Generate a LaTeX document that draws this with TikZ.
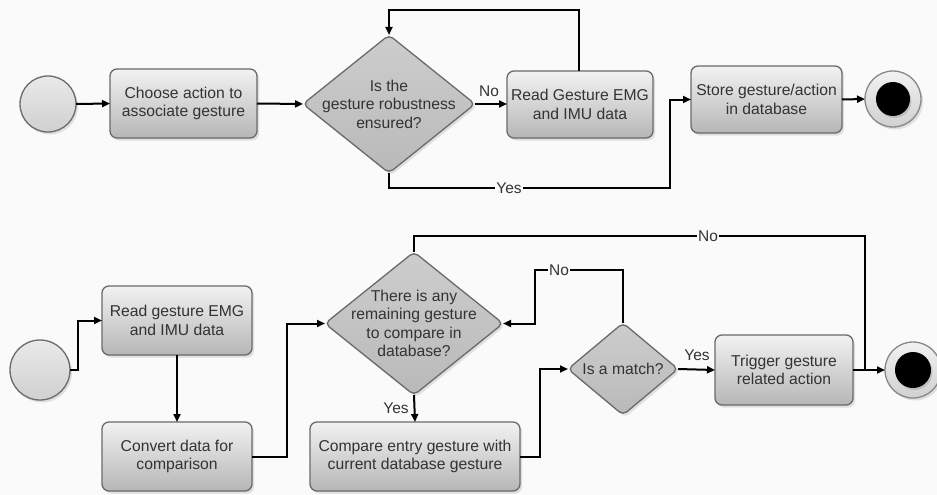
\documentclass[tikz,border=0pt]{standalone}
\usepackage{fontspec}
\setmainfont{Liberation Sans}
\usetikzlibrary{shapes.geometric,shadows,arrows.meta}
\definecolor{bord}{HTML}{6A6A6A}
\definecolor{txtc}{HTML}{333333}
\definecolor{bg}{HTML}{FAFAFA}
\definecolor{boxtop}{HTML}{F2F2F2}
\definecolor{boxbot}{HTML}{B6B6B6}
\definecolor{diatop}{HTML}{CDCDCD}
\definecolor{diabot}{HTML}{B9B9B9}
\definecolor{circtop}{HTML}{E9E9E9}
\definecolor{circbot}{HTML}{D0D0D0}
\begin{document}
\begin{tikzpicture}[x=1pt,y=-1pt,
  shad/.style={drop shadow={opacity=0.22, shadow xshift=2pt, shadow yshift=-2.5pt}},
  box/.style={rectangle, rounded corners=7pt, draw=bord, line width=1.3pt,
    top color=boxtop, bottom color=boxbot, shad, align=center, inner sep=0pt, outer sep=0pt,
    text=txtc, font=\fontsize{15.7}{18.5}\selectfont},
  dia/.style={diamond, rounded corners=5pt, draw=bord, line width=1.3pt,
    top color=diatop, bottom color=diabot, shad, inner sep=0pt, outer sep=0pt},
  diatext/.style={align=center, text=txtc, font=\fontsize{15.7}{18.5}\selectfont, inner sep=0pt},
  startc/.style={circle, draw=bord, line width=1.3pt, top color=circtop, bottom color=circbot, shad, inner sep=0pt, outer sep=0pt},
  endc/.style={circle, draw=bord!80, line width=1.3pt, top color=boxtop, bottom color=circbot, shad, inner sep=0pt, outer sep=0pt},
  arr/.style={draw=black, line width=2pt, -{Triangle[length=8pt,width=7pt]}},
  ln/.style={draw=black, line width=2pt},
  lbl/.style={font=\fontsize{15.5}{15.5}\selectfont, text=txtc, inner sep=1pt},
  lblf/.style={lbl, fill=bg}
]
\useasboundingbox (0,0) rectangle (937,495);
\fill[bg] (0,0) rectangle (937,495);

% ---------- top row ----------
\node[startc, minimum size=56pt] (s1) at (48,104) {};
\node[box, minimum width=147pt, minimum height=69pt] (b1) at (183.5,103.5) {Choose action to\\associate gesture};
\node[dia, minimum width=172pt, minimum height=138pt] (d1) at (389,104) {};
\node[diatext] at (d1) {Is the\\gesture robustness\\ensured?};
\node[box, minimum width=146pt, minimum height=67pt] (b2) at (580,104.5) {Read Gesture EMG\\and IMU data};
\node[box, minimum width=151pt, minimum height=67pt] (b3) at (766.5,99.5) {Store gesture/action\\in database};
\node[endc, minimum size=56pt] (e1) at (893,99) {};
\fill[black, drop shadow={opacity=0.3, shadow xshift=1.5pt, shadow yshift=-2pt}] (e1) circle (17pt);

\draw[arr] (s1.east) -- (b1.west);
\draw[arr] (b1.east) -- (d1.west);
\draw[arr] (d1.east) -- (b2.west |- d1.east);
\node[lbl] (n1) at (489,91) {No};
\draw[arr] (b2.north -| 579,0) -- (579,10) -| (d1.north);
\draw[arr] (d1.south) |- (670,188) |- (b3.west);
\node[lblf] (y1) at (509,188) {Yes};
\draw[arr] (b3.east) -- (e1.west);

% ---------- bottom row ----------
\node[startc, minimum size=60pt] (s2) at (40,370) {};
\node[box, minimum width=150pt, minimum height=69pt] (b4) at (177,320.5) {Read gesture EMG\\and IMU data};
\node[box, minimum width=150pt, minimum height=69pt] (b5) at (177,456.5) {Convert data for\\comparison};
\node[dia, minimum width=178pt, minimum height=143pt] (d2) at (414,323.5) {};
\node[diatext] at (d2) {There is any\\remaining gesture\\to compare in\\database?};
\node[box, minimum width=210pt, minimum height=69pt] (b6) at (415,456.5) {Compare entry gesture with\\current database gesture};
\node[dia, minimum width=110pt, minimum height=92pt] (d3) at (623,369) {};
\node[diatext] at (d3) {Is a match?};
\node[box, minimum width=138pt, minimum height=70pt] (b7) at (784,370) {Trigger gesture\\related action};
\node[endc, minimum size=56pt] (e2) at (913,370) {};
\fill[black, drop shadow={opacity=0.3, shadow xshift=1.5pt, shadow yshift=-2pt}] (e2) circle (18pt);
\coordinate (j) at (865,370);

\draw[arr] (s2.east) -- (78,370) |- (b4.west);
\draw[arr] (b4.south) -- (b5.north);
\draw[arr] (b5.east) -- (287,456.5) |- (d2.west);
\draw[arr] (d2.south) -- (b6.north);
\node[lbl] (y2) at (396,408) {Yes};
\draw[arr] (b6.east) -- (540,456.5) |- (d3.west);
\draw[arr] (d3.east) -- (b7.west);
\node[lbl] (y3) at (697,355) {Yes};
\draw[arr] (b7.east) -- (e2.west);
\draw[arr] (d3.north) |- (535,270) |- (d2.east);
\node[lblf] (n2) at (559,270) {No};
\draw[ln] (d2.north) |- (865,236) -- (j);
\node[lblf] (n3) at (708,236) {No};
\end{tikzpicture}
\end{document}
